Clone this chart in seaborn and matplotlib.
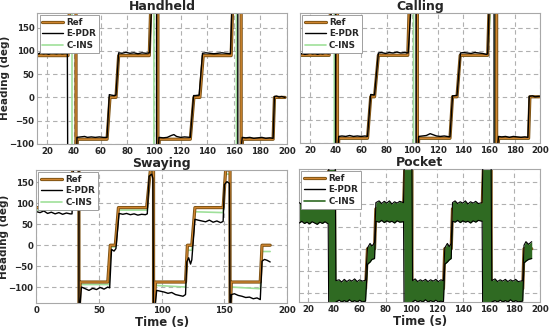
import pandas as pd
import matplotlib
matplotlib.use('Agg')
import matplotlib.pyplot as plt
import matplotlib.patheffects as pe
from matplotlib.lines import Line2D
import seaborn as sns

# heading traces, as (time s, heading deg)
# +/-185 marks the wrap-around through 180 deg (clipped by the axes)
hh_ref = [(12.5, 90), (35.5, 90), (36.5, 185), (41.5, 185), (41.5, -185), (42.5, -90), (64.8, -90),
          (67, 0), (71.5, 0), (73.5, 90), (96.5, 90), (97.5, 185), (103, 185), (103, -185), (104, -90),
          (127.3, -90), (130, 0), (134.5, 0), (137, 90), (158, 90), (159, 185), (165.5, 185),
          (165.5, -185), (166.5, -90), (189.5, -90), (190.5, 0), (198.5, 0)]
hh_epdr = [(12.5, 93), (15, 96), (17, 94), (19, 95), (21, 93), (23, 96), (25, 95), (27, 94), (29, 96),
           (31, 94), (33, 95), (35, 95), (35.3, -185), (41.8, -185), (42.2, -86), (45, -85), (48, -84),
           (50, -86), (53, -85), (56, -86), (59, -85), (62, -86), (64.8, -86), (66.5, 6), (68, 5),
           (70, 4), (71.5, 5), (73.5, 96), (76, 95), (79, 97), (82, 95), (85, 96), (88, 94), (91, 96),
           (94, 95), (96.8, 96), (98, 185), (102, 185), (102, -185), (103.8, -86), (107, -87),
           (110, -86), (113, -82), (115, -80), (117, -84), (120, -86), (123, -85), (127.3, -86),
           (129.8, 4), (131, 4), (134, 5), (136.5, 95), (139, 96), (142, 95), (145, 94), (148, 95),
           (151, 96), (154, 95), (157.5, 94), (158.5, 185), (163, 185), (163, -185), (166.3, -86),
           (169, -87), (172, -86), (175, -88), (178, -87), (181, -86), (184, -88), (187, -87),
           (189.5, -88), (190.5, 2), (192, 3), (194, 1), (196, 2), (198.5, 0)]
hh_cins = [(12.5, 91), (35.5, 91), (36, 185), (38.5, 185), (38.5, -185), (42, -90), (65, -90),
           (67, 2), (71.5, 2), (73.5, 91), (96.5, 91), (97.5, 185), (100, 185), (100, -185),
           (104, -90), (127.5, -90), (130, 2), (134.5, 2), (137, 91), (158, 91), (159, 185),
           (162, 185), (162, -185), (166.5, -90), (189.5, -90), (191, 1), (198.5, 1)]

ca_ref = [(12, 90), (35, 90), (36, 185), (41.5, 185), (41.5, -185), (42.5, -90), (65, -90),
          (67.5, 0), (70.5, 0), (73.5, 90), (96.5, 90), (97.5, 185), (104, 185), (104, -185),
          (105, -90), (129.5, -90), (131.5, 0), (135, 0), (137.5, 90), (159, 90), (160, 185),
          (166, 185), (166, -185), (167.5, -90), (191, -90), (192, 0), (199.5, 0)]
ca_epdr = [(12, 92), (14, 94), (16, 92), (18, 93), (20, 95), (22, 93), (24, 94), (26, 92), (28, 94),
           (30, 93), (32, 95), (35, 93), (36.5, 185), (40, 185), (40, -185), (42.5, -86), (45, -85),
           (48, -86), (51, -84), (54, -86), (57, -85), (60, -86), (63, -85), (65, -86), (67.5, 5),
           (70.5, 4), (73.5, 95), (76, 96), (79, 94), (82, 96), (85, 95), (88, 97), (91, 95),
           (94, 96), (96.8, 95), (98.8, 185), (103, 185), (103, -185), (105, -86), (108, -85),
           (111, -84), (114, -80), (116, -82), (119, -85), (122, -86), (125, -85), (129.5, -87),
           (131.5, 2), (135, 3), (137.7, 95), (140, 96), (143, 95), (146, 94), (149, 96), (152, 95),
           (155, 94), (158, 92), (159, 93), (160, 185), (164, 185), (164, -185), (167.5, -86),
           (170, -87), (173, -86), (176, -88), (179, -86), (182, -87), (185, -88), (188, -87),
           (190.5, -88), (191.5, 1), (194, 2), (196, 0), (199.5, 1)]
ca_cins = [(12, 89), (35, 89), (36, 185), (39, 185), (39, -185), (42, -91), (65, -91), (67.5, 1),
           (70.5, 1), (73.5, 89), (96.5, 89), (98, 185), (101, 185), (101, -185), (105, -91),
           (129.5, -91), (131.5, 1), (135, 1), (137.5, 89), (159, 89), (161, 185), (165, 185),
           (165, -185), (167, -91), (191, -91), (192, 0), (199.5, 0)]

sw_ref = [(0.5, 90), (28, 90), (29, 185), (34, 185), (34, -185), (35, -88), (57, -88), (59, 0),
          (63, 0), (65.5, 90), (88, 90), (91, 180), (93.5, 180), (93.5, -185), (95, -88), (119, -88),
          (120.5, 0), (124, 0), (126.5, 90), (149, 90), (151, 180), (154.5, 180), (154.5, -185),
          (155.5, -88), (178.6, -88), (180, 0), (186.5, 0)]
sw_epdr = [(0.5, 80), (3, 78), (6, 82), (9, 76), (12, 79), (15, 75), (18, 78), (21, 74), (24, 77),
           (27, 75), (28.5, 75), (29.5, 185), (34, 185), (34, -185), (35.2, -130), (36, -100),
           (39, -104), (42, -108), (45, -103), (48, -106), (51, -101), (54, -105), (57, -100),
           (58.5, -102), (60, -10), (62, -14), (63.5, -8), (66, 76), (69, 74), (72, 76), (75, 73),
           (78, 75), (81, 72), (84, 74), (87, 73), (88.5, 75), (90, 165), (92, 170), (93, 160),
           (93.5, -185), (95, -138), (96, -108), (99, -110), (102, -112), (105, -115), (108, -113),
           (111, -118), (114, -120), (117, -122), (119, -118), (120, -40), (121.5, -30), (123, -45),
           (124, -35), (126.5, 62), (129, 60), (132, 58), (135, 56), (138, 60), (141, 55),
           (144, 58), (147, 54), (149, 57), (150, 145), (152, 152), (154, 148), (154.5, -185),
           (155.5, -118), (158, -116), (161, -120), (164, -122), (167, -125), (170, -124),
           (173, -128), (176, -126), (178.6, -130), (180, -38), (182, -34), (184, -36), (186.5, -40)]
sw_cins = [(0.5, 84), (28, 84), (29, 185), (34, 185), (34, -185), (35, -94), (58, -94), (59.5, -4),
           (63, -4), (65.5, 84), (88.5, 84), (90.5, 175), (93.5, 175), (93.5, -185), (95, -96),
           (119, -100), (120.5, -12), (124, -12), (126.5, 80), (149, 78), (150.5, 170),
           (154.5, 170), (154.5, -185), (155.5, -100), (178.6, -104), (180, -15), (186.5, -15)]

pk_ref = [(13, 90), (35.5, 90), (36, 185), (40.5, 185), (40.5, -185), (41.5, -90), (64.5, -90),
          (66, 0), (71.5, 0), (72.5, 90), (94, 90), (95, 185), (100.5, 185), (100.5, -185),
          (101, -90), (125, -90), (126, 0), (131, 0), (132, 90), (155, 90), (156, 185), (162, 185),
          (162, -185), (162.5, -90), (186.5, -90), (187.5, 0), (193.5, 0)]
# pocket: E-PDR / C-INS oscillate fast, kept as (time, upper edge, lower edge)
pk_band = [(13, 104, 58), (15, 100, 62), (17, 105, 57), (19, 101, 60), (21, 104, 56), (23, 99, 61),
           (25, 105, 58), (27, 102, 55), (29, 104, 60), (31, 100, 57), (33, 105, 61), (35.5, 103, 56),
           (36, 185, -185), (41, 185, -185), (41.5, -72, -120), (44, -70, -116), (46, -75, -120),
           (48, -69, -117), (50, -74, -120), (52, -70, -115), (54, -73, -120), (56, -68, -117),
           (58, -74, -120), (60, -70, -116), (62, -73, -120), (64.5, -71, -118),
           (66, 2, -35), (68, 12, -30), (69.5, 6, -24), (71.5, 14, -22),
           (72.5, 104, 62), (75, 108, 60), (77, 102, 64), (79, 107, 59), (81, 103, 63), (83, 108, 60),
           (85, 101, 62), (87, 106, 58), (89, 103, 63), (91, 107, 60), (94, 104, 61),
           (94.5, 185, -185), (100.5, 185, -185), (101, -72, -120), (103, -68, -116),
           (105, -74, -120), (107, -70, -117), (109, -73, -120), (111, -69, -115), (113, -74, -120),
           (115, -70, -117), (117, -73, -120), (119, -69, -116), (121, -74, -120), (123, -70, -118),
           (125, -72, -120), (126, 2, -35), (128, 12, -30), (129.5, 5, -25), (131, 12, -22),
           (132, 104, 62), (134, 108, 60), (136, 102, 64), (138, 106, 59), (140, 103, 63),
           (142, 108, 60), (144, 101, 62), (146, 106, 58), (148, 103, 63), (150, 107, 60),
           (152, 102, 64), (155, 104, 62), (155.5, 185, -185), (162, 185, -185),
           (162.5, -72, -120), (165, -68, -117), (167, -74, -120), (169, -70, -116),
           (171, -73, -120), (173, -69, -117), (175, -74, -120), (177, -70, -115), (179, -73, -120),
           (181, -69, -117), (183, -74, -120), (186.5, -72, -118), (187.5, 8, -32), (189, 16, -28),
           (191, 10, -24), (193.5, 16, -22)]

panels = [
    ('Handheld', hh_ref, hh_epdr, hh_cins),
    ('Calling', ca_ref, ca_epdr, ca_cins),
    ('Swaying', sw_ref, sw_epdr, sw_cins),
    ('Pocket', pk_ref, None, None),
]

sns.set_style('whitegrid', {'grid.linestyle': (0, (4, 3)), 'grid.color': '#b0b0b0',
                            'axes.edgecolor': '#a8a8a8'})
plt.rcParams['font.family'] = ['DejaVu Sans']
plt.rcParams['font.weight'] = 'bold'
plt.rcParams['axes.titleweight'] = 'bold'
plt.rcParams['axes.labelweight'] = 'bold'

ref_col = '#cf8530'
ref_fx = [pe.Stroke(linewidth=2.3, foreground='#7a5012'), pe.Normal()]
cins_light = '#9fe09a'
pocket_green = '#2f6a22'

fig = plt.figure(figsize=(5.5, 3.3), dpi=100)
boxes = [
    [0.068, 0.564, 0.454, 0.397],
    [0.545, 0.567, 0.437, 0.394],
    [0.066, 0.082, 0.456, 0.403],
    [0.544, 0.085, 0.438, 0.403],
]
xlims = [(12.5, 200), (12, 200), (0, 200), (13, 200)]
ylims = [(-100, 182), (-100, 182), (-138, 180), (-120, 180)]


def frame(pairs):
    return pd.DataFrame(pairs, columns=['Time', 'Heading'])


for i, (name, ref, epdr, cins) in enumerate(panels):
    ax = fig.add_axes(boxes[i])
    if name == 'Pocket':
        band = pd.DataFrame(pk_band, columns=['Time', 'Upper', 'Lower'])
        sns.lineplot(data=frame(ref), x='Time', y='Heading', ax=ax, sort=False, estimator=None,
                     color=ref_col, lw=1.0, path_effects=ref_fx)
        ax.fill_between(band['Time'], band['Lower'], band['Upper'], color=pocket_green, lw=0,
                        zorder=2.5)
        for edge in ['Upper', 'Lower']:
            sns.lineplot(data=band, x='Time', y=edge, ax=ax, sort=False, estimator=None,
                         color='black', lw=0.8, zorder=3)
        cins_col = pocket_green
    else:
        sns.lineplot(data=frame(cins), x='Time', y='Heading', ax=ax, sort=False, estimator=None,
                     color=cins_light, lw=1.2)
        sns.lineplot(data=frame(ref), x='Time', y='Heading', ax=ax, sort=False, estimator=None,
                     color=ref_col, lw=1.0, path_effects=ref_fx)
        sns.lineplot(data=frame(epdr), x='Time', y='Heading', ax=ax, sort=False, estimator=None,
                     color='black', lw=1.0)
        cins_col = cins_light

    ax.set_xlim(*xlims[i])
    ax.set_ylim(*ylims[i])
    ax.set_yticks([-100, -50, 0, 50, 100, 150])
    if name == 'Swaying':
        ax.set_xticks([0, 50, 100, 150, 200])
    else:
        ax.set_xticks(range(20, 201, 20))
    ax.tick_params(labelsize=6.2, length=0, pad=2)
    ax.set_title(name, fontsize=9, pad=2)
    ax.set_xlabel('Time (s)' if i >= 2 else '', fontsize=8.5, labelpad=1)
    if i % 2 == 0:
        ax.set_ylabel('Heading (deg)', fontsize=7.5)
        ax.yaxis.set_label_coords(-0.11, 0.5)
    else:
        ax.set_ylabel('')
        ax.set_yticklabels([])

    handles = [Line2D([], [], color=ref_col, lw=1.0, path_effects=ref_fx),
               Line2D([], [], color='black', lw=1.0),
               Line2D([], [], color=cins_col, lw=1.2)]
    leg = ax.legend(handles, ['Ref', 'E-PDR', 'C-INS'], loc='upper left', fontsize=6.3,
                    frameon=True, fancybox=False, framealpha=1, edgecolor='#909090',
                    borderpad=0.3, handlelength=2.4, handletextpad=0.4, labelspacing=0.3,
                    borderaxespad=0.25)
    leg.get_frame().set_linewidth(0.6)
    leg.set_zorder(5)

fig.savefig('out.png', dpi=100)
